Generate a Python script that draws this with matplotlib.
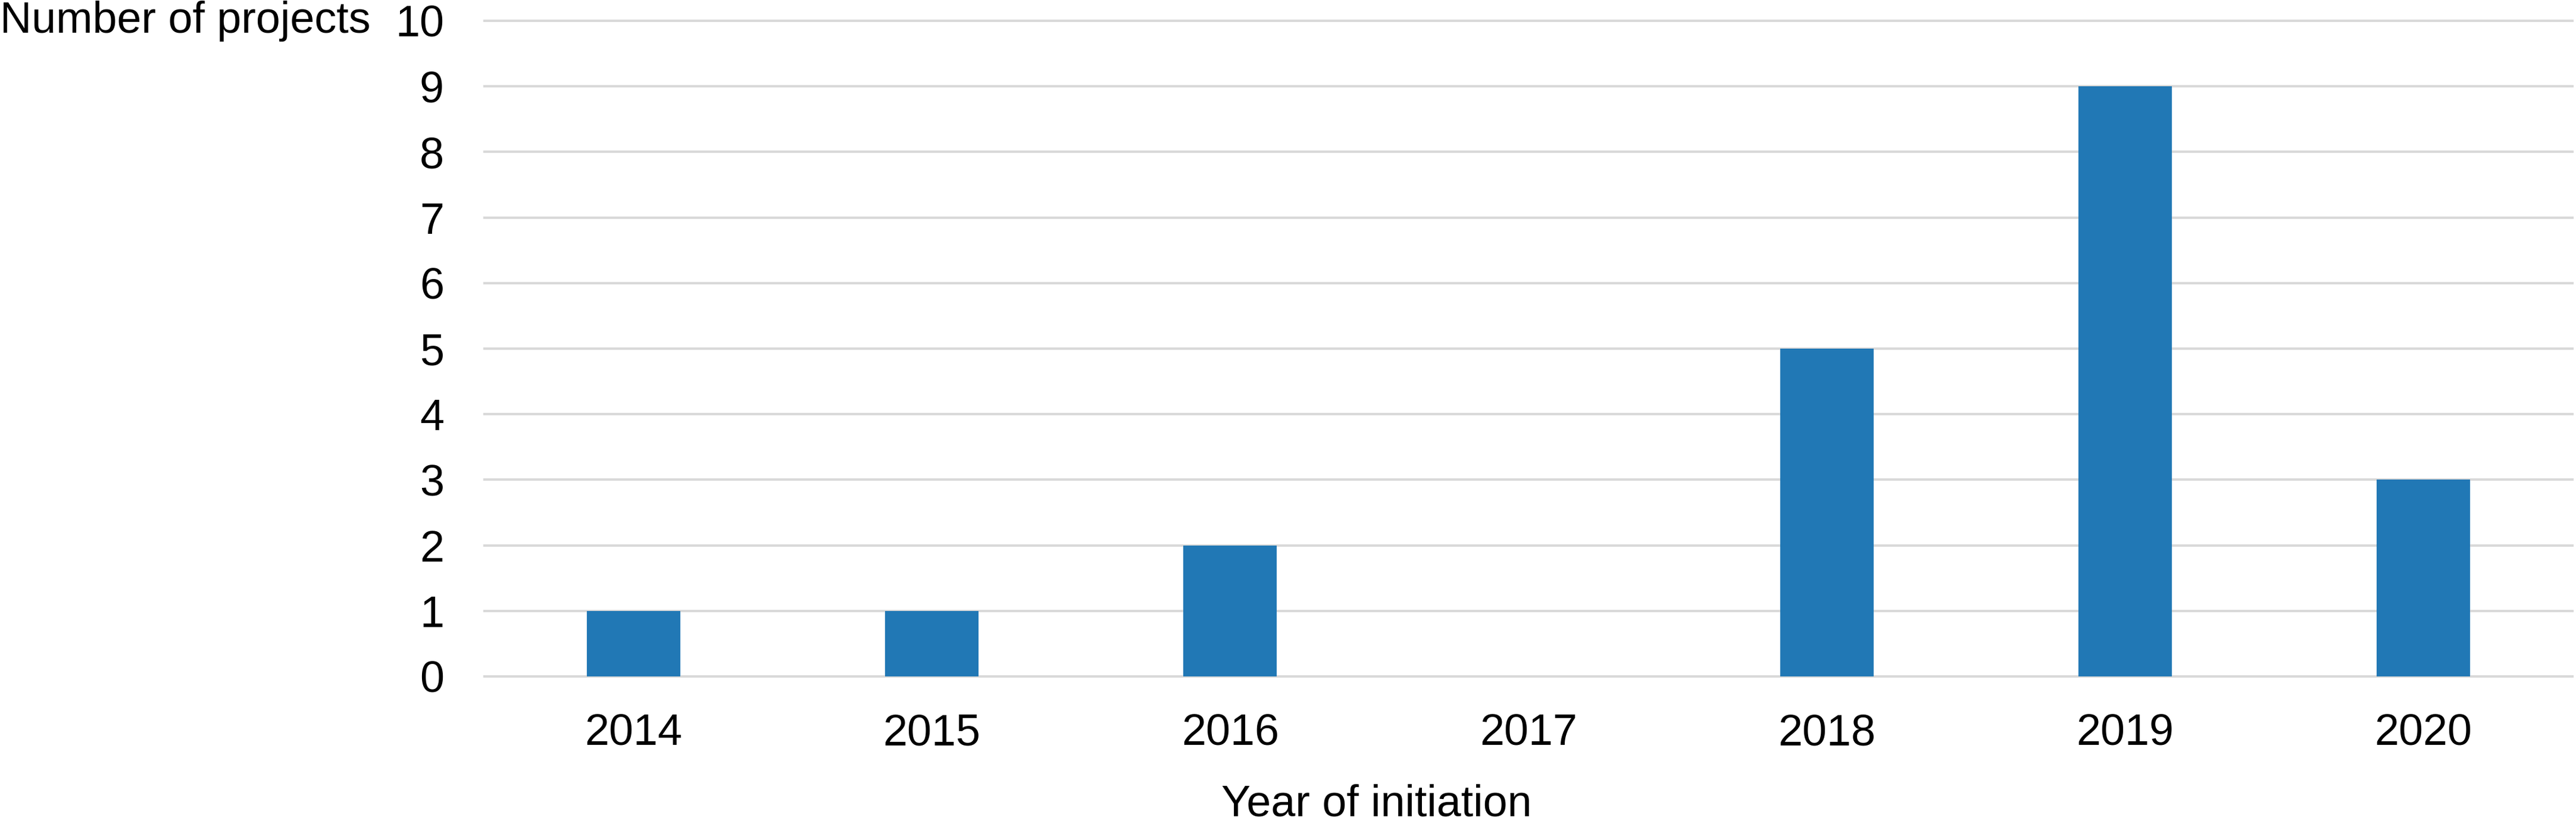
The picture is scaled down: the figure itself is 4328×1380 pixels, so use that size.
import matplotlib
matplotlib.use("Agg")
import matplotlib.pyplot as plt
from matplotlib.transforms import blended_transform_factory

years = ["2014", "2015", "2016", "2017", "2018", "2019", "2020"]
projects = [1, 1, 2, 0, 5, 9, 3]
y_ticks = list(range(0, 11))
y_label = "Number of projects"
x_label = "Year of initiation"

plt.rcParams['font.family'] = ['Liberation Sans', 'DejaVu Sans']

W, H, DPI = 4328, 1380, 100
fig = plt.figure(figsize=(W / DPI, H / DPI), dpi=DPI)
ax = fig.add_axes([814 / W, (H - 1137) / H, (4322 - 814) / W, (1137 - 35) / H])

x = list(range(len(years)))
ax.bar(x, projects, width=0.313, color="#2178b5", zorder=3)

ax.set_xlim(-0.5, len(years) - 0.5)
ax.set_ylim(0, 10)
ax.set_yticks(y_ticks)
ax.set_xticks(x)
ax.set_xticklabels(years)
ax.tick_params(axis='both', length=0, labelsize=53, colors='black')
ax.tick_params(axis='y', pad=49)
ax.tick_params(axis='x', pad=44)
for s in ax.spines.values():
    s.set_visible(False)
ax.yaxis.grid(True, color="#d9d9d9", linewidth=2.9, zorder=0)
ax.set_axisbelow(True)
for gl in ax.get_ygridlines():
    gl.set_clip_on(False)

tr = blended_transform_factory(fig.transFigure, ax.transData)
ax.text(0.0, 10, y_label, transform=tr, ha='left', va='center', fontsize=53)
fig.text(2313 / W, 28 / H, x_label, ha='center', va='center', fontsize=53)

fig.savefig("out.png", dpi=DPI, facecolor='white')
